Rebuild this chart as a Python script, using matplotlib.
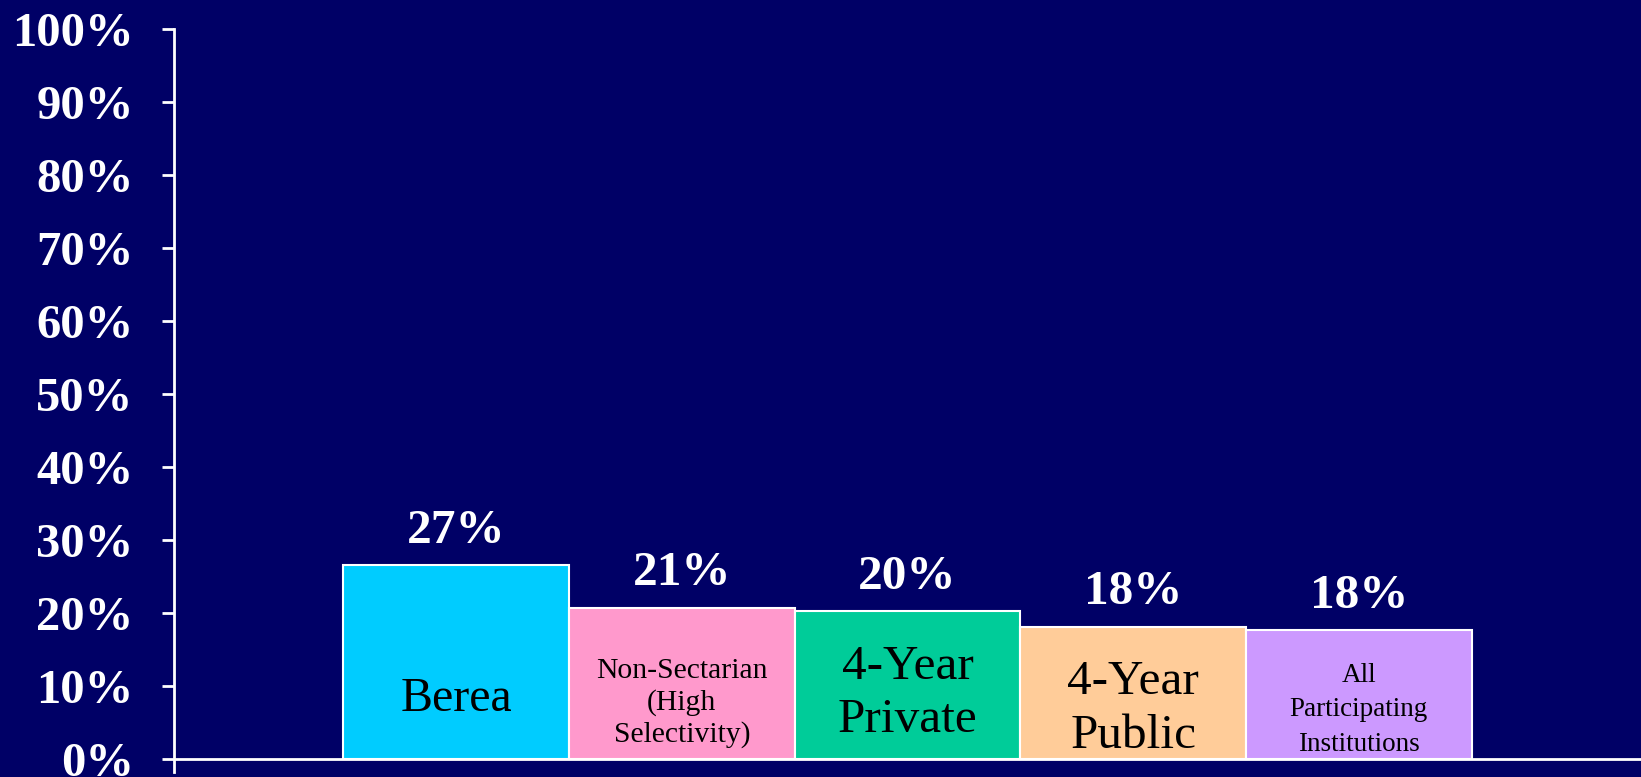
# Berea comparison bar chart, recreated
import matplotlib
matplotlib.use('Agg')
import matplotlib.pyplot as plt

categories = ['Berea', 'Non-Sectarian\n(High\nSelectivity)', '4-Year\nPrivate',
              '4-Year\nPublic', 'All\nParticipating\nInstitutions']
values = [26.5, 20.7, 20.2, 18.1, 17.6]
value_labels = ['27%', '21%', '20%', '18%', '18%']
label_sizes = [34.5, 21.3, 35.5, 35.5, 19.5]
label_spacing = [1.0, 1.26, 1.27, 1.27, 1.5]
label_y = [8.2, 7.6, 8.9, 6.8, 6.7]
colors = ['#00CCFF', '#FF99CC', '#00CC99', '#FFCC99', '#CC99FF']
yticks = list(range(0, 101, 10))

bg = '#000066'
plt.rcParams['font.family'] = ['Liberation Serif', 'DejaVu Serif']

fig = plt.figure(figsize=(16.41, 7.77), dpi=100, facecolor=bg)
ax = fig.add_axes([0.106, 0.0068, 0.894, 0.9555])
ax.set_facecolor(bg)

x = list(range(len(categories)))
ax.bar(x, values, width=1.0, color=colors, edgecolor='white', linewidth=1.5, zorder=2)

for i, v in enumerate(values):
    ax.text(i, v + 4.7, value_labels[i], ha='center', va='center',
            color='white', fontsize=35.5, fontweight='bold')
    ax.text(i, label_y[i], categories[i], ha='center', va='center',
            color='black', fontsize=label_sizes[i], linespacing=label_spacing[i], zorder=3)

ax.axhline(0, color='white', linewidth=2, zorder=3)
ax.set_xlim(-1.25, 5.25)
ax.set_ylim(-1.8, 100)
ax.set_yticks(yticks)
ax.set_yticklabels([f'{t}%' for t in yticks], fontsize=35, fontweight='bold', color='white')
ax.tick_params(axis='y', colors='white', length=9, width=2, pad=20)
ax.set_xticks([])

for s in ['top', 'right', 'bottom']:
    ax.spines[s].set_visible(False)
ax.spines['left'].set_color('white')
ax.spines['left'].set_linewidth(2)

fig.savefig('out.png', dpi=100, facecolor=bg)
